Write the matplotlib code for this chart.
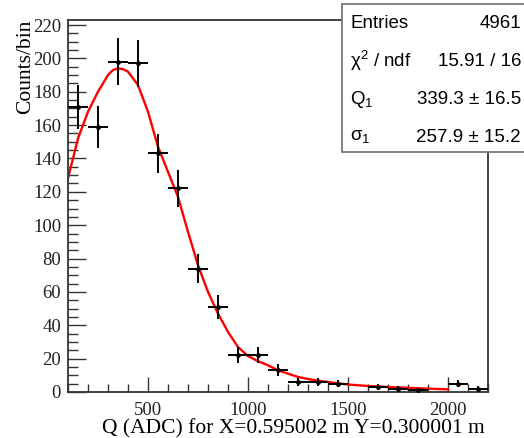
import numpy as np
import matplotlib
matplotlib.use("Agg")
from matplotlib import pyplot as plt
from matplotlib.patches import Rectangle
from matplotlib.ticker import MultipleLocator

# Histogram contents (bin width 100 ADC, empty bins left out)
bin_centers = [150, 250, 350, 450, 550, 650, 750, 850, 950, 1050, 1150,
               1250, 1350, 1450, 1650, 1750, 1850, 2050, 2150]
bin_counts = [171, 159, 198, 197, 143, 122, 74, 51, 22, 22, 13,
              6, 6, 5, 3, 2, 1, 5, 2]
bin_half_width = 50

# Fit curve
fit_x = [100, 150, 200, 250, 300, 325, 350, 375, 400, 450, 500, 550, 600,
         650, 700, 750, 800, 850, 900, 950, 1000, 1050, 1100, 1150, 1200,
         1250, 1300, 1350, 1400, 1450, 1500, 1600, 1700, 1800, 1900, 2000]
fit_y = [128, 152, 168, 180, 190, 193, 194, 193.5, 192, 184, 168, 147, 132,
         117, 96, 76, 60, 47, 36, 27, 21.5, 18.5, 16, 13, 11,
         9, 7.8, 6.8, 6, 5.2, 4.5, 3.6, 3.0, 2.5, 2.0, 1.6]

# Stats box entries
stats_names = ["Entries", "χ$^{\\mathregular{2}}$ / ndf",
               "Q$_{\\mathregular{1}}$", "σ$_{\\mathregular{1}}$"]
stats_values = ["4961", "15.91 / 16", "339.3 ± 16.5", "257.9 ± 15.2"]

fig = plt.figure(figsize=(5.24, 4.38), dpi=100)
ax = fig.add_axes([68 / 524, 1 - 392 / 438, 420 / 524, 372 / 438])

counts = np.array(bin_counts, dtype=float)
ax.errorbar(bin_centers, counts, xerr=bin_half_width, yerr=np.sqrt(counts),
            fmt="o", ms=2.5, color="black", elinewidth=1.4, capsize=0, zorder=3)
ax.plot(fit_x, fit_y, color="#ff0000", lw=1.7, zorder=2)

ax.set_xlim(100, 2200)
ax.set_ylim(0, 223)
ax.xaxis.set_major_locator(MultipleLocator(500))
ax.xaxis.set_minor_locator(MultipleLocator(100))
ax.yaxis.set_major_locator(MultipleLocator(20))
ax.yaxis.set_minor_locator(MultipleLocator(5))
ax.tick_params(which="both", direction="in", top=False, right=False,
               color="#333333", width=1.0, labelsize=13.5, labelcolor="#222222",
               labelfontfamily="Liberation Serif")
ax.tick_params(which="major", length=11, pad=7)
ax.tick_params(which="minor", length=6)
ax.tick_params(axis="y", which="major", length=13, pad=5)
ax.tick_params(axis="y", which="minor", length=7)
for sp in ax.spines.values():
    sp.set_linewidth(1.3)
    sp.set_color("#333333")

ax.set_xlabel("Q (ADC) for X=0.595002 m Y=0.300001 m", loc="right",
              fontfamily="Liberation Serif", fontsize=15.5)
ax.set_ylabel("Counts/bin", loc="top", fontfamily="Liberation Serif",
              fontsize=15.5)
ax.yaxis.set_label_coords(-0.079, 1.0)
ax.xaxis.set_label_coords(0.992, -0.074)

# Stats box on top of the frame corner
box = Rectangle((342 / 524, 1 - 152 / 438), 0.4, 148 / 438,
                transform=fig.transFigure, facecolor="white",
                edgecolor="#777777", lw=1.3, zorder=10)
fig.add_artist(box)
row_y = [24, 61, 100, 137]
for name, val, yy in zip(stats_names, stats_values, row_y):
    fig.text(350 / 524, 1 - yy / 438, name, ha="left", va="center",
             fontfamily="Liberation Sans", fontsize=13.5, zorder=11)
    fig.text(521 / 524, 1 - yy / 438, val, ha="right", va="center",
             fontfamily="Liberation Sans", fontsize=13.5, zorder=11)

fig.savefig("out.png", dpi=100)
